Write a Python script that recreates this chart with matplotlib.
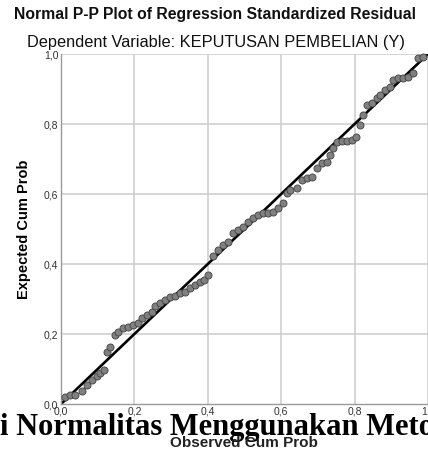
import matplotlib
matplotlib.use('Agg')
import matplotlib.pyplot as plt

# Observed vs expected cumulative probabilities
observed_cum = [0.011, 0.025, 0.038, 0.057, 0.071, 0.084, 0.098, 0.106, 0.117, 0.125,
                0.134, 0.147, 0.155, 0.169, 0.183, 0.196, 0.210, 0.221, 0.234, 0.248,
                0.256, 0.270, 0.283, 0.297, 0.311, 0.324, 0.338, 0.351, 0.365, 0.379,
                0.390, 0.401, 0.414, 0.428, 0.441, 0.455, 0.469, 0.482, 0.496, 0.510,
                0.523, 0.537, 0.550, 0.564, 0.578, 0.591, 0.605, 0.616, 0.624, 0.643,
                0.657, 0.670, 0.684, 0.698, 0.711, 0.725, 0.733, 0.741, 0.752, 0.766,
                0.779, 0.793, 0.804, 0.815, 0.823, 0.834, 0.847, 0.861, 0.869, 0.883,
                0.896, 0.905, 0.918, 0.932, 0.946, 0.959, 0.973, 0.986]
expected_cum = [0.020, 0.026, 0.026, 0.037, 0.054, 0.069, 0.080, 0.089, 0.097, 0.149,
                0.163, 0.197, 0.206, 0.217, 0.220, 0.226, 0.231, 0.246, 0.254, 0.263,
                0.280, 0.289, 0.297, 0.306, 0.309, 0.317, 0.320, 0.331, 0.340, 0.349,
                0.354, 0.369, 0.423, 0.440, 0.454, 0.463, 0.489, 0.497, 0.506, 0.520,
                0.531, 0.540, 0.546, 0.546, 0.549, 0.560, 0.574, 0.603, 0.611, 0.617,
                0.640, 0.646, 0.649, 0.674, 0.689, 0.691, 0.711, 0.731, 0.749, 0.751,
                0.751, 0.754, 0.763, 0.797, 0.826, 0.854, 0.860, 0.874, 0.883, 0.897,
                0.906, 0.926, 0.931, 0.931, 0.934, 0.946, 0.989, 0.991]

ticks = [0.0, 0.2, 0.4, 0.6, 0.8, 1.0]
tick_labels = ['0,0', '0,2', '0,4', '0,6', '0,8', '1,0']

plt.rcParams['font.family'] = ['Liberation Sans', 'DejaVu Sans']

fig = plt.figure(figsize=(4.28, 4.51), dpi=100)
ax = fig.add_axes([61 / 428, 47 / 451, 367 / 428, 350 / 451])

# light grid like the SPSS output
for t in ticks[1:]:
    ax.axvline(t, color='#cccccc', linewidth=1.1, zorder=1)
    ax.axhline(t, color='#cccccc', linewidth=1.1, zorder=1)

# reference diagonal
ax.plot([0, 1], [0, 1], color='black', linewidth=1.9, zorder=2)

ax.scatter(observed_cum, expected_cum, s=26, facecolor='#808080',
           edgecolor='#404040', linewidth=0.6, zorder=3, clip_on=False)

ax.set_xlim(0, 1)
ax.set_ylim(0, 1)
ax.set_xticks(ticks)
ax.set_xticklabels(tick_labels)
ax.set_yticks(ticks)
ax.set_yticklabels(tick_labels)
ax.tick_params(length=0, labelsize=7.5, labelcolor='#333333', pad=2)

for side in ['top', 'right']:
    ax.spines[side].set_visible(False)
for side in ['left', 'bottom']:
    ax.spines[side].set_color('#999999')
    ax.spines[side].set_linewidth(1.0)

ax.set_ylabel('Expected Cum Prob', fontsize=10.5, fontweight='bold', labelpad=9)

fig.text(215 / 428, 1 - 14 / 451, 'Normal P-P Plot of Regression Standardized Residual',
         ha='center', va='center', fontsize=11.3, fontweight='bold', color='#111111')
fig.text(216 / 428, 1 - 43 / 451, 'Dependent Variable: KEPUTUSAN PEMBELIAN (Y)',
         ha='center', va='center', fontsize=11.8, color='#111111')

# document text overlapping the screenshot
fig.text(0.0, 16 / 451, 'i Normalitas Menggunakan Metode',
         ha='left', va='baseline', fontsize=22, fontweight='bold',
         family=['Liberation Serif', 'DejaVu Serif'], color='black')

fig.text(244 / 428, 1 - 443 / 451, 'Observed Cum Prob',
         ha='center', va='center', fontsize=11, fontweight='bold', color='#222222')

fig.savefig('out.png', dpi=100)
